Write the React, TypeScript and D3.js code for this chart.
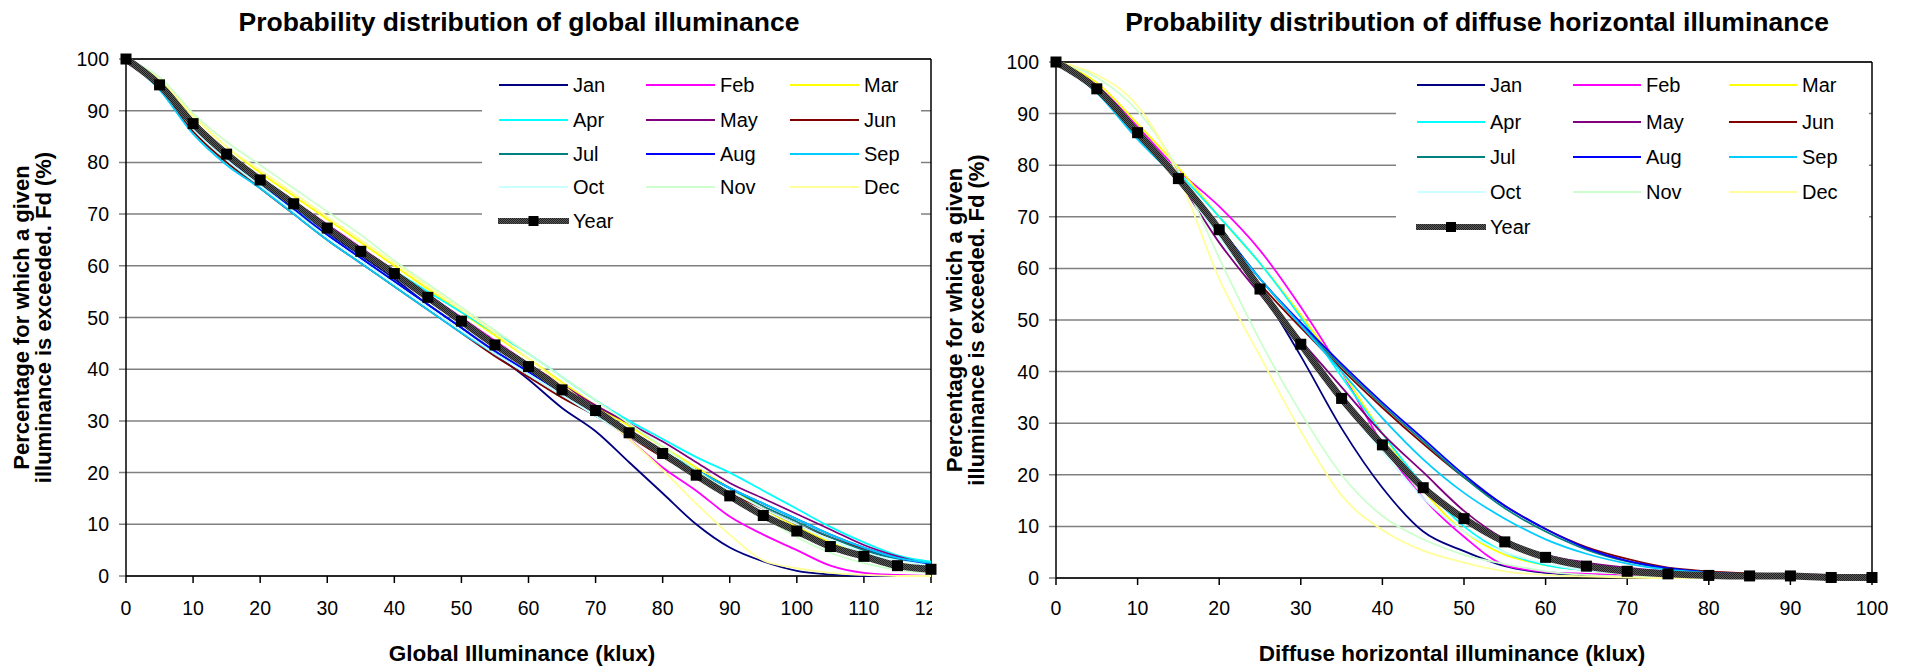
import React from "react";
import * as d3 from "d3";

const months = ["Jan", "Feb", "Mar", "Apr", "May", "Jun", "Jul", "Aug", "Sep", "Oct", "Nov", "Dec"];
const monthColors = ["#000080", "#FF00FF", "#FFFF00", "#00FFFF", "#800080", "#800000", "#008080", "#0000FF", "#00CCFF", "#CCFFFF", "#CCFFCC", "#FFFF99"];

const globalX = [0, 5, 10, 15, 20, 25, 30, 35, 40, 45, 50, 55, 60, 65, 70, 75, 80, 85, 90, 95, 100, 105, 110, 115, 120];
const globalYear = [100, 95, 87.5, 81.6, 76.6, 72, 67.3, 62.8, 58.5, 53.9, 49.3, 44.7, 40.5, 36, 32, 27.7, 23.7, 19.5, 15.5, 11.7, 8.7, 5.7, 3.8, 2, 1.3];
const globalJan = [100, 95, 87, 81, 76, 71.5, 66.5, 62, 57.5, 52.5, 48, 43, 38, 32.5, 28, 22, 16, 10, 5.5, 2.8, 1, 0.3, 0, 0, 0];
const globalFeb = [100, 95.5, 88, 82, 77, 72.5, 68, 63.5, 59, 54.5, 50, 45.5, 41, 36.5, 32, 26.5, 21, 16.5, 11.5, 8, 5, 2, 0.6, 0.2, 0];
const globalMar = [100, 96, 89, 83, 78, 73.5, 69, 64.5, 60, 55.5, 51, 46.5, 42, 37.5, 33, 29, 25, 21, 17, 13, 9.5, 6.5, 4, 2.5, 1.5];
const globalApr = [100, 94.5, 86, 80, 75.5, 71, 67, 63, 59, 55, 51, 47, 43, 38.5, 34, 30, 26.5, 23, 20, 16.5, 13, 9.5, 6.5, 4, 2.8];
const globalMay = [100, 95, 87, 81, 76, 71.5, 67, 62.5, 58, 53.5, 49, 45, 41, 37, 33, 29.5, 26, 22, 18, 15, 12, 9, 6, 3.8, 2.2];
const globalJun = [100, 94.5, 86, 80, 75, 70, 65, 60.5, 56, 51.5, 47, 42.5, 38.5, 34.5, 31, 27, 23, 19.5, 16, 13, 10, 7.5, 5.2, 3.3, 2];
const globalJul = [100, 94.5, 86.5, 80.5, 75.5, 70.5, 66, 61.5, 57, 52.5, 48, 43.5, 39.5, 35.5, 31.5, 27.5, 24, 20.5, 17, 13.5, 10.5, 7.5, 5, 3.2, 2];
const globalAug = [100, 95, 87, 81, 76, 71, 66, 61.5, 57, 52.5, 48, 43.5, 39.5, 35.5, 31.5, 27.5, 24, 20.5, 17, 14, 11, 8, 5.5, 3.5, 2.2];
const globalSep = [100, 94, 85.5, 79.5, 75, 70, 65, 60.5, 56, 51.5, 47, 43, 39, 35, 31, 27.5, 24, 20.5, 17, 14, 11, 8, 5.5, 3.5, 2.5];
const globalOct = [100, 95, 86.5, 80.5, 75.5, 70.5, 65.5, 61, 56.5, 52, 47.5, 43, 39, 35, 31, 27, 23.5, 20, 16.5, 13, 10, 7, 4.5, 3, 2];
const globalNov = [100, 96.5, 89.5, 84, 79.5, 75, 70.5, 66, 61, 56.5, 52, 47.5, 43, 38.5, 34, 29.5, 25, 20.5, 16, 11.5, 7.5, 4.5, 2.5, 1.2, 0.6];
const globalDec = [100, 96, 89, 83, 78.5, 74, 69.5, 65, 60.5, 56, 51.5, 47, 42, 37, 32, 26.5, 20.5, 14, 8, 3, 1.5, 0.6, 0.2, 0, 0];

const diffuseX = [0, 5, 10, 15, 20, 25, 30, 35, 40, 45, 50, 55, 60, 65, 70, 75, 80, 85, 90, 95, 100];
const diffuseYear = [100, 94.8, 86.3, 77.4, 67.5, 56, 45.3, 34.8, 25.8, 17.5, 11.5, 7, 4, 2.3, 1.3, 0.8, 0.5, 0.4, 0.4, 0.1, 0.1];
const diffuseJan = [100, 95, 86, 77, 67, 56, 43, 29, 17.5, 9, 5.2, 2.3, 1, 0.5, 0.2, 0.1, 0, 0, 0, 0, 0];
const diffuseFeb = [100, 95.5, 87.5, 79, 72, 63.5, 52.5, 40, 26, 15.5, 8, 2.5, 1.2, 0.8, 0.5, 0.3, 0.2, 0.1, 0, 0, 0];
const diffuseMar = [100, 96, 88, 79.5, 70, 61, 51, 40, 28, 17, 9, 4.5, 2.5, 1.5, 0.8, 0.5, 0.3, 0.2, 0.1, 0, 0];
const diffuseApr = [100, 94.5, 86, 78.5, 70, 61, 50.5, 39, 28, 18, 10, 5, 2.5, 1.5, 1, 0.6, 0.4, 0.3, 0.2, 0.1, 0];
const diffuseMay = [100, 95, 86, 77, 65, 55, 46, 37, 28, 20.5, 13, 7.5, 4.5, 3, 2, 1.3, 1, 0.8, 0.7, 0.6, 0.5];
const diffuseJun = [100, 94.5, 85.5, 77, 67, 57, 48.5, 40.5, 33, 26, 19.5, 14, 9.5, 6, 3.7, 2, 1.3, 0.9, 0.6, 0.4, 0.3];
const diffuseJul = [100, 94.5, 85.5, 77.5, 68, 58, 49, 41, 33.5, 26.5, 19.5, 13.5, 9, 5.5, 3.2, 1.8, 1.1, 0.7, 0.5, 0.3, 0.2];
const diffuseAug = [100, 94.5, 86, 77.5, 68, 58, 49.5, 41.5, 34, 27, 20, 14, 9.5, 5.8, 3.3, 1.9, 1.1, 0.7, 0.5, 0.3, 0.2];
const diffuseSep = [100, 94, 85, 77, 67.5, 58, 49, 40, 31, 23, 16.5, 11.5, 7.5, 4.7, 2.8, 1.6, 1, 0.6, 0.4, 0.3, 0.2];
const diffuseOct = [100, 95, 86, 77, 66, 55.5, 45, 34.5, 24.5, 15.5, 9, 5, 2.8, 1.5, 0.8, 0.5, 0.3, 0.2, 0.1, 0, 0];
const diffuseNov = [100, 97, 90.5, 79, 62, 46, 32, 20, 12, 7.5, 4.5, 2.7, 1.3, 0.6, 0.3, 0.1, 0, 0, 0, 0, 0];
const diffuseDec = [100, 97.5, 91.5, 78, 58, 43, 28.5, 16, 9.3, 5.3, 3, 1.3, 0.6, 0.3, 0.1, 0, 0, 0, 0, 0, 0];

const globalTicksX = [0, 10, 20, 30, 40, 50, 60, 70, 80, 90, 100, 110, 120];
const diffuseTicksX = [0, 10, 20, 30, 40, 50, 60, 70, 80, 90, 100];
const ticksY = [0, 10, 20, 30, 40, 50, 60, 70, 80, 90, 100];

const FONT = "'Liberation Sans', Arial, sans-serif";

type ChartCfg = {
  id: string;
  title: string;
  titleX: number;
  xTitle: string;
  xTitleX: number;
  yTitleX: [number, number];
  xDomain: [number, number];
  xRange: [number, number];
  yRange: [number, number];
  xs: number[];
  monthly: number[][];
  year: number[];
  xTicks: number[];
  legend: { x: number; y: number; w: number; h: number; rows: number[]; cols: number[]; lineLen: number };
  clipRight: number;
};

function Chart({ cfg }: { cfg: ChartCfg }) {
  const x = d3.scaleLinear().domain(cfg.xDomain).range(cfg.xRange);
  const y = d3.scaleLinear().domain([0, 100]).range(cfg.yRange);
  const line = d3
    .line<[number, number]>()
    .x((d) => x(d[0]))
    .y((d) => y(d[1]))
    .curve(d3.curveMonotoneX);
  const [x0, x1] = cfg.xRange;
  const [yb, yt] = cfg.yRange;
  const pairs = (vals: number[]) => cfg.xs.map((xv, i) => [xv, vals[i]] as [number, number]);
  const lg = cfg.legend;
  const yMid = (yb + yt) / 2;
  return (
    <g>
      <defs>
        <clipPath id={`clip-${cfg.id}`}>
          <rect x={0} y={0} width={cfg.clipRight} height={667} />
        </clipPath>
      </defs>
      <text x={cfg.titleX} y={31} textAnchor="middle" fontFamily={FONT} fontWeight="bold" fontSize={26.5}>
        {cfg.title}
      </text>
      {ticksY.map((t) => (
        <line key={`g${t}`} x1={x0 - 7} x2={x1} y1={y(t)} y2={y(t)} stroke="#808080" strokeWidth={1.5} />
      ))}
      <rect x={lg.x} y={lg.y} width={lg.w} height={lg.h} fill="#fff" />
      <line x1={x0} x2={x1} y1={yt} y2={yt} stroke="#000" strokeWidth={1.5} />
      <line x1={x1} x2={x1} y1={yt} y2={yb} stroke="#000" strokeWidth={1.5} />
      <line x1={x0} x2={x0} y1={yt} y2={yb} stroke="#000" strokeWidth={1.5} />
      <line x1={x0} x2={x1} y1={yb} y2={yb} stroke="#000" strokeWidth={1.5} />
      {ticksY.map((t) => (
        <text key={`yl${t}`} x={x0 - 17} y={y(t) + 7} textAnchor="end" fontFamily={FONT} fontSize={19.5}>
          {t}
        </text>
      ))}
      <g clipPath={`url(#clip-${cfg.id})`}>
        {cfg.xTicks.map((t) => (
          <g key={`xt${t}`}>
            <line x1={x(t)} x2={x(t)} y1={yb} y2={yb + 7} stroke="#000" strokeWidth={1.5} />
            <text x={x(t)} y={615} textAnchor="middle" fontFamily={FONT} fontSize={19.5}>
              {t}
            </text>
          </g>
        ))}
      </g>
      <text x={cfg.xTitleX} y={661} textAnchor="middle" fontFamily={FONT} fontWeight="bold" fontSize={22.5}>
        {cfg.xTitle}
      </text>
      <text
        transform={`translate(${cfg.yTitleX[0]},${yMid}) rotate(-90)`}
        textAnchor="middle"
        fontFamily={FONT}
        fontWeight="bold"
        fontSize={22}
      >
        Percentage for which a given
      </text>
      <text
        transform={`translate(${cfg.yTitleX[1]},${yMid}) rotate(-90)`}
        textAnchor="middle"
        fontFamily={FONT}
        fontWeight="bold"
        fontSize={22}
      >
        illuminance is exceeded. Fd (%)
      </text>
      {cfg.monthly.map((vals, i) => (
        <path key={`m${i}`} d={line(pairs(vals)) || ""} fill="none" stroke={monthColors[i]} strokeWidth={1.8} />
      ))}
      <path d={line(pairs(cfg.year)) || ""} fill="none" stroke="url(#yearPat)" strokeWidth={7} />
      {cfg.xs.map((xv, i) => (
        <rect key={`ym${i}`} x={x(xv) - 5.5} y={y(cfg.year[i]) - 5.5} width={11} height={11} fill="#000" />
      ))}
      {months.map((m, i) => {
        const r = Math.floor(i / 3);
        const c = i % 3;
        const lx = lg.cols[c];
        const ly = lg.rows[r];
        return (
          <g key={`lg${m}`}>
            <line x1={lx} x2={lx + lg.lineLen} y1={ly} y2={ly} stroke={monthColors[i]} strokeWidth={2} />
            <text x={lx + lg.lineLen + 5} y={ly + 7} fontFamily={FONT} fontSize={20}>
              {m}
            </text>
          </g>
        );
      })}
      <g>
        <line
          x1={lg.cols[0] - 1}
          x2={lg.cols[0] + lg.lineLen + 1}
          y1={lg.rows[4]}
          y2={lg.rows[4]}
          stroke="url(#yearPat)"
          strokeWidth={6}
        />
        <rect x={lg.cols[0] + lg.lineLen / 2 - 5} y={lg.rows[4] - 5} width={10} height={10} fill="#000" />
        <text x={lg.cols[0] + lg.lineLen + 5} y={lg.rows[4] + 7} fontFamily={FONT} fontSize={20}>
          Year
        </text>
      </g>
    </g>
  );
}

const leftCfg: ChartCfg = {
  id: "global",
  title: "Probability distribution of global illuminance",
  titleX: 519,
  xTitle: "Global Illuminance (klux)",
  xTitleX: 522,
  yTitleX: [29, 51],
  xDomain: [0, 120],
  xRange: [126, 931],
  yRange: [576, 59],
  xs: globalX,
  monthly: [globalJan, globalFeb, globalMar, globalApr, globalMay, globalJun, globalJul, globalAug, globalSep, globalOct, globalNov, globalDec],
  year: globalYear,
  xTicks: globalTicksX,
  legend: { x: 482, y: 62, w: 439, h: 178, rows: [85, 120, 154, 187, 221], cols: [499, 646, 790], lineLen: 69 },
  clipRight: 932,
};

const rightCfg: ChartCfg = {
  id: "diffuse",
  title: "Probability distribution of diffuse horizontal illuminance",
  titleX: 1477,
  xTitle: "Diffuse horizontal illuminance (klux)",
  xTitleX: 1452,
  yTitleX: [962, 984],
  xDomain: [0, 100],
  xRange: [1056, 1872],
  yRange: [578, 62],
  xs: diffuseX,
  monthly: [diffuseJan, diffuseFeb, diffuseMar, diffuseApr, diffuseMay, diffuseJun, diffuseJul, diffuseAug, diffuseSep, diffuseOct, diffuseNov, diffuseDec],
  year: diffuseYear,
  xTicks: diffuseTicksX,
  legend: { x: 1396, y: 65, w: 473, h: 182, rows: [85, 122, 157, 192, 227], cols: [1417, 1573, 1729], lineLen: 68 },
  clipRight: 1908,
};

export default function App() {
  return (
    <svg
      width={1908}
      height={667}
      style={{ position: "absolute", left: 0, top: 0, background: "#fff" }}
      xmlns="http://www.w3.org/2000/svg"
    >
      <defs>
        <pattern id="yearPat" width={2} height={2} patternUnits="userSpaceOnUse">
          <rect x={0} y={0} width={2} height={2} fill="#5a5a5a" />
          <rect x={0} y={0} width={1} height={1} fill="#222" />
          <rect x={1} y={1} width={1} height={1} fill="#222" />
        </pattern>
      </defs>
      <rect x={0} y={0} width={1908} height={667} fill="#fff" />
      <Chart cfg={leftCfg} />
      <Chart cfg={rightCfg} />
    </svg>
  );
}
